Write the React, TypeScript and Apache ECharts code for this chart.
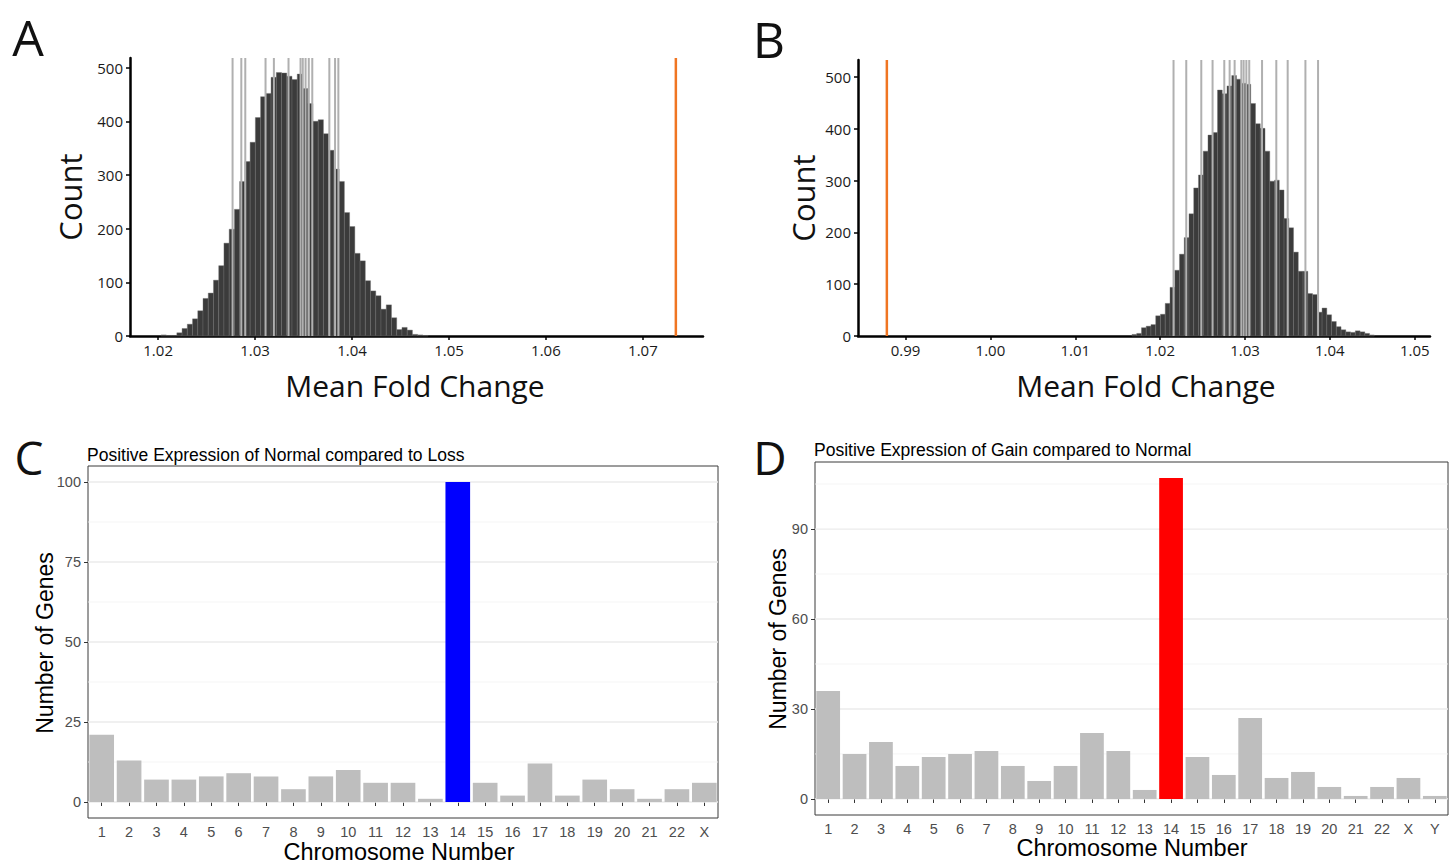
import React, { useEffect, useRef } from 'react';
import * as echarts from 'echarts';

// ---------- Panel A: permutation histogram (Loss) ----------
const aBinStart = 1.02031;
const aBinWidth = 0.00054;
const aCounts = [2, 1, 1, 6, 14, 22, 32, 47, 70, 80, 104, 131, 173, 199, 236, 288, 325, 361, 407, 446, 452, 482, 491, 490, 484, 478, 488, 461, 433, 400, 403, 377, 346, 311, 288, 230, 204, 154, 140, 103, 84, 75, 50, 58, 34, 12, 16, 11, 3, 2, 1];
const aGreyLines = [1.02768, 1.02858, 1.02899, 1.03108, 1.03194, 1.03345, 1.03469, 1.03492, 1.03521, 1.03554, 1.0359, 1.03766, 1.03825, 1.03859];
const aObserved = [1.0734];
const aXTicks = [1.02, 1.03, 1.04, 1.05, 1.06, 1.07];
const aYTicks = [0, 100, 200, 300, 400, 500];

// ---------- Panel B: permutation histogram (Gain) ----------
const bBinStart = 1.01668;
const bBinWidth = 0.00056;
const bCounts = [3, 5, 16, 19, 22, 39, 42, 63, 94, 127, 158, 190, 236, 286, 311, 357, 388, 393, 475, 468, 483, 503, 496, 488, 486, 449, 410, 401, 357, 299, 301, 282, 227, 209, 162, 125, 125, 82, 80, 46, 54, 41, 28, 18, 12, 8, 7, 10, 8, 5, 2];
const bGreyLines = [1.02158, 1.02308, 1.02485, 1.02618, 1.02756, 1.02819, 1.02878, 1.02957, 1.02984, 1.03016, 1.0305, 1.03201, 1.03369, 1.03503, 1.03712, 1.03861];
const bObserved = [0.9878];
const bXTicks = [0.99, 1.0, 1.01, 1.02, 1.03, 1.04, 1.05];
const bYTicks = [0, 100, 200, 300, 400, 500];

// ---------- Panel C ----------
const cChromosomes = ['1', '2', '3', '4', '5', '6', '7', '8', '9', '10', '11', '12', '13', '14', '15', '16', '17', '18', '19', '20', '21', '22', 'X'];
const cGenes = [21, 13, 7, 7, 8, 9, 8, 4, 8, 10, 6, 6, 1, 100, 6, 2, 12, 2, 7, 4, 1, 4, 6];
const cYTicks = [0, 25, 50, 75, 100];
const cYMinor = [12.5, 37.5, 62.5, 87.5];

// ---------- Panel D ----------
const dChromosomes = ['1', '2', '3', '4', '5', '6', '7', '8', '9', '10', '11', '12', '13', '14', '15', '16', '17', '18', '19', '20', '21', '22', 'X', 'Y'];
const dGenes = [36, 15, 19, 11, 14, 15, 16, 11, 6, 11, 22, 16, 3, 107, 14, 8, 27, 7, 9, 4, 1, 4, 7, 1];
const dYTicks = [0, 30, 60, 90];
const dYMinor = [15, 45, 75, 105];

const highlightChromosome = '14';

const SANS_AB = 'Open Sans';
const SANS_CD = 'Liberation Sans';

function histRender(params: any, api: any) {
  const p0 = api.coord([api.value(0), api.value(2)]);
  const p1 = api.coord([api.value(1), 0]);
  return {
    type: 'rect',
    shape: { x: p0[0], y: p0[1], width: p1[0] - p0[0], height: p1[1] - p0[1] },
    style: { fill: '#3b3b3b', stroke: '#6e6e6e', lineWidth: 0.4 },
  };
}

function vlineRender(color: string, width: number) {
  return (params: any, api: any) => {
    const x = api.coord([api.value(0), 0])[0];
    const cs = params.coordSys;
    return {
      type: 'line',
      shape: { x1: x, y1: cs.y, x2: x, y2: cs.y + cs.height },
      style: { stroke: color, lineWidth: width },
    };
  };
}

function hlineRender(color: string, width: number) {
  return (params: any, api: any) => {
    const y = api.coord([0, api.value(1)])[1];
    const cs = params.coordSys;
    return {
      type: 'line',
      shape: { x1: cs.x, y1: y, x2: cs.x + cs.width, y2: y },
      style: { stroke: color, lineWidth: width },
    };
  };
}

function histAxes(gridIndex: number, xmin: number, xmax: number, ymax: number, xTicks: number[], yTicks: number[]) {
  const x = {
    type: 'value',
    gridIndex,
    min: xmin,
    max: xmax,
    axisLine: { show: true, onZero: false, lineStyle: { color: '#000', width: 2.5 } },
    axisTick: { show: true, customValues: xTicks, length: 4, lineStyle: { color: '#000', width: 1.5 } },
    axisLabel: { customValues: xTicks, formatter: (v: number) => v.toFixed(2), fontSize: 15, color: '#1a1a1a', margin: 6, fontFamily: SANS_AB },
    splitLine: { show: false },
  };
  const y = {
    type: 'value',
    gridIndex,
    min: 0,
    max: ymax,
    axisLine: { show: true, onZero: false, lineStyle: { color: '#000', width: 2.5 } },
    axisTick: { show: true, customValues: yTicks, length: 4, lineStyle: { color: '#000', width: 1.5 } },
    axisLabel: { customValues: yTicks, fontSize: 15, color: '#1a1a1a', margin: 7, fontFamily: SANS_AB },
    splitLine: { show: false },
  };
  return { x, y };
}

function barAxes(gridIndex: number, cats: string[], ymin: number, ymax: number, yTicks: number[]) {
  const x = {
    type: 'category',
    gridIndex,
    data: cats,
    axisLine: { show: false },
    axisTick: { show: true, alignWithLabel: true, length: 4, lineStyle: { color: '#333', width: 1 } },
    axisLabel: { interval: 0, fontSize: 14.5, color: '#4d4d4d', margin: 6, fontFamily: SANS_CD },
    splitLine: { show: false },
  };
  const y = {
    type: 'value',
    gridIndex,
    min: ymin,
    max: ymax,
    axisLine: { show: false },
    axisTick: { show: true, customValues: yTicks, length: 4, lineStyle: { color: '#333', width: 1 } },
    axisLabel: { customValues: yTicks, fontSize: 14.5, color: '#4d4d4d', margin: 7, fontFamily: SANS_CD },
    splitLine: { show: false },
  };
  return { x, y };
}

function text(t: string, x: number, y: number, size: number, family: string, opts: any = {}) {
  return {
    type: 'text',
    x,
    y,
    rotation: opts.rotation || 0,
    silent: true,
    style: {
      text: t,
      fontSize: size,
      fontFamily: family,
      fill: opts.fill || '#111',
      align: opts.align || 'center',
      verticalAlign: 'middle',
    },
  };
}

export default function App() {
  const ref = useRef<HTMLDivElement>(null);

  useEffect(() => {
    document.body.style.margin = '0';
    if (!ref.current) return;
    const chart = echarts.init(ref.current, undefined, { renderer: 'svg' });

    const axA = histAxes(0, 1.0171, 1.0762, 518, aXTicks, aYTicks);
    const axB = histAxes(1, 0.9844, 1.0518, 533, bXTicks, bYTicks);
    const axC = barAxes(2, cChromosomes, -5, 105, cYTicks);
    const axD = barAxes(3, dChromosomes, -5.35, 112.35, dYTicks);

    const histData = (start: number, w: number, counts: number[]) =>
      counts.map((c, i) => [start + i * w, start + (i + 1) * w, c]);

    const option: any = {
      animation: false,
      backgroundColor: '#ffffff',
      grid: [
        { left: 130, top: 58, width: 573, height: 278 },
        { left: 858, top: 60, width: 572, height: 276 },
        { left: 88, top: 466, width: 630, height: 352, show: true, borderColor: '#3a3a3a', borderWidth: 1, backgroundColor: 'transparent' },
        { left: 815, top: 462, width: 633, height: 353, show: true, borderColor: '#3a3a3a', borderWidth: 1, backgroundColor: 'transparent' },
      ],
      xAxis: [axA.x, axB.x, axC.x, axD.x],
      yAxis: [axA.y, axB.y, axC.y, axD.y],
      series: [
        // Panel A
        { type: 'custom', name: 'A counts', coordinateSystem: 'cartesian2d', xAxisIndex: 0, yAxisIndex: 0, z: 2, renderItem: histRender, encode: { x: [0, 1], y: 2 }, data: histData(aBinStart, aBinWidth, aCounts) },
        { type: 'custom', name: 'A chromosomes', coordinateSystem: 'cartesian2d', xAxisIndex: 0, yAxisIndex: 0, z: 3, renderItem: vlineRender('#b0b0b0', 2), encode: { x: 0, y: 1 }, data: aGreyLines.map((v) => [v, 0]) },
        { type: 'custom', name: 'A observed', coordinateSystem: 'cartesian2d', xAxisIndex: 0, yAxisIndex: 0, z: 4, renderItem: vlineRender('#f07522', 2.5), encode: { x: 0, y: 1 }, data: aObserved.map((v) => [v, 0]) },
        // Panel B
        { type: 'custom', name: 'B counts', coordinateSystem: 'cartesian2d', xAxisIndex: 1, yAxisIndex: 1, z: 2, renderItem: histRender, encode: { x: [0, 1], y: 2 }, data: histData(bBinStart, bBinWidth, bCounts) },
        { type: 'custom', name: 'B chromosomes', coordinateSystem: 'cartesian2d', xAxisIndex: 1, yAxisIndex: 1, z: 3, renderItem: vlineRender('#b0b0b0', 2), encode: { x: 0, y: 1 }, data: bGreyLines.map((v) => [v, 0]) },
        { type: 'custom', name: 'B observed', coordinateSystem: 'cartesian2d', xAxisIndex: 1, yAxisIndex: 1, z: 4, renderItem: vlineRender('#f07522', 2.5), encode: { x: 0, y: 1 }, data: bObserved.map((v) => [v, 0]) },
        // Panel C
        { type: 'custom', name: 'C minor grid', coordinateSystem: 'cartesian2d', xAxisIndex: 2, yAxisIndex: 2, z: 1, silent: true, renderItem: hlineRender('#f3f3f3', 0.8), encode: { x: 0, y: 1 }, data: cYMinor.map((v) => [0, v]) },
        { type: 'custom', name: 'C major grid', coordinateSystem: 'cartesian2d', xAxisIndex: 2, yAxisIndex: 2, z: 1, silent: true, renderItem: hlineRender('#ebebeb', 1.3), encode: { x: 0, y: 1 }, data: cYTicks.map((v) => [0, v]) },
        {
          type: 'bar', name: 'C genes', xAxisIndex: 2, yAxisIndex: 2, z: 2, barCategoryGap: '10%',
          data: cGenes.map((v, i) => ({ value: v, itemStyle: { color: cChromosomes[i] === highlightChromosome ? '#0000ff' : '#bebebe' } })),
        },
        // Panel D
        { type: 'custom', name: 'D minor grid', coordinateSystem: 'cartesian2d', xAxisIndex: 3, yAxisIndex: 3, z: 1, silent: true, renderItem: hlineRender('#f3f3f3', 0.8), encode: { x: 0, y: 1 }, data: dYMinor.map((v) => [0, v]) },
        { type: 'custom', name: 'D major grid', coordinateSystem: 'cartesian2d', xAxisIndex: 3, yAxisIndex: 3, z: 1, silent: true, renderItem: hlineRender('#ebebeb', 1.3), encode: { x: 0, y: 1 }, data: dYTicks.map((v) => [0, v]) },
        {
          type: 'bar', name: 'D genes', xAxisIndex: 3, yAxisIndex: 3, z: 2, barCategoryGap: '10%',
          data: dGenes.map((v, i) => ({ value: v, itemStyle: { color: dChromosomes[i] === highlightChromosome ? '#ff0000' : '#bebebe' } })),
        },
      ],
      graphic: [
        text('A', 28, 37, 50, SANS_AB),
        text('B', 769, 39, 50, SANS_AB),
        text('C', 29, 457, 46, SANS_AB),
        text('D', 770, 457, 46, SANS_AB),
        text('Count', 70, 197, 31, SANS_AB, { rotation: Math.PI / 2 }),
        text('Count', 803, 198, 31, SANS_AB, { rotation: Math.PI / 2 }),
        text('Mean Fold Change', 415, 385, 30, SANS_AB),
        text('Mean Fold Change', 1146, 385, 30, SANS_AB),
        text('Positive Expression of Normal compared to Loss', 87, 455, 17.5, SANS_CD, { align: 'left', fill: '#000' }),
        text('Positive Expression of Gain compared to Normal', 814, 450, 17.5, SANS_CD, { align: 'left', fill: '#000' }),
        text('Number of Genes', 45, 643, 23, SANS_CD, { rotation: Math.PI / 2, fill: '#000' }),
        text('Number of Genes', 778, 639, 23, SANS_CD, { rotation: Math.PI / 2, fill: '#000' }),
        text('Chromosome Number', 399, 852, 23.5, SANS_CD, { fill: '#000' }),
        text('Chromosome Number', 1132, 848, 23.5, SANS_CD, { fill: '#000' }),
      ],
    };

    chart.setOption(option);
    return () => {
      chart.dispose();
    };
  }, []);

  return <div ref={ref} style={{ width: 1455, height: 864 }} />;
}
